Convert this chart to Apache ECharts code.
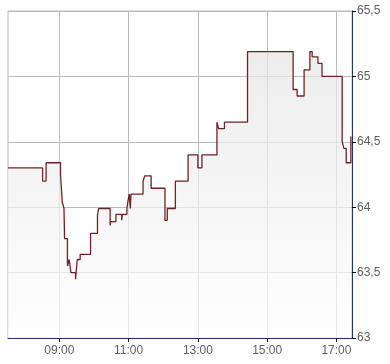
<!DOCTYPE html>
<html>
<head>
<meta charset="utf-8">
<script src="https://cdn.jsdelivr.net/npm/echarts@6/dist/echarts.min.js"></script>
<style>
html,body{margin:0;padding:0;background:#fff;}
#chart{width:390px;height:364px;}
</style>
</head>
<body>
<div id="chart"></div>
<script>
// Data: time of change and new price (step series)
var times = ['07:31','08:31','08:37','09:02','09:05','09:08','09:09','09:14','09:17','09:20','09:28','09:31','09:36','09:54','10:06','10:08','10:28','10:29','10:38','10:48','10:49','10:57','10:59','11:01','11:03','11:04','11:25','11:28','11:39','12:03','12:07','12:21','12:43','13:00','13:07','13:33','13:36','13:46','14:26','15:45','15:52','16:04','16:14','16:18','16:28','16:35','17:10','17:13','17:17','17:25'];
var prices = [64.30,64.20,64.34,64.25,64.04,63.99,63.76,63.55,63.60,63.50,63.45,63.60,63.64,63.80,63.94,63.99,63.86,63.89,63.945,63.90,63.945,63.99,64.05,64.10,63.99,64.10,64.20,64.24,64.145,63.90,63.99,64.20,64.40,64.30,64.40,64.65,64.60,64.65,65.19,64.90,64.85,65.05,65.19,65.15,65.10,65.00,64.50,64.45,64.34,64.54];
var xTickLabels = ['09:00','11:00','13:00','15:00','17:00'];
var yTickLabels = ['63','63,5','64','64,5','65','65,5'];
var axisStart = '07:31';
var axisEnd = '17:27';

function toMin(s){var p=s.split(':');return (+p[0])*60+(+p[1]);}
var seriesData = times.map(function(t,i){return [toMin(t), prices[i]];});
var xTickValues = xTickLabels.map(toMin);
var labelByMin = {};
xTickLabels.forEach(function(l){labelByMin[toMin(l)] = l;});
var yLabelByVal = {};
yTickLabels.forEach(function(l){yLabelByVal[parseFloat(l.replace(',','.')).toFixed(1)] = l;});

var chart = echarts.init(document.getElementById('chart'), null, {renderer:'canvas'});
var axisColor = '#1b3766';
var gridColor = '#bababa';
var textStyle = {color:'#5f5f5f', fontSize:12, fontFamily:'"Liberation Sans", Arial, sans-serif'};
chart.setOption({
  animation:false,
  backgroundColor:'#ffffff',
  grid:{left:8, top:11, right:38, bottom:26, show:true, borderColor:gridColor, borderWidth:1, backgroundColor:'transparent'},
  xAxis:{
    type:'value', min:toMin(axisStart), max:toMin(axisEnd),
    axisLine:{show:true, lineStyle:{color:axisColor, width:1}},
    axisTick:{show:true, length:4, inside:false, customValues:xTickValues, lineStyle:{color:'#000'}},
    axisLabel:Object.assign({margin:7, customValues:xTickValues, formatter:function(v){return labelByMin[v]||'';}}, textStyle),
    splitLine:{show:true, lineStyle:{color:gridColor, width:1}}
  },
  yAxis:{
    type:'value', position:'right', min:63, max:65.5, interval:0.5,
    axisLine:{show:true, lineStyle:{color:axisColor, width:1}},
    axisTick:{show:true, length:4, inside:false, lineStyle:{color:'#000'}},
    axisLabel:Object.assign({margin:5, formatter:function(v){return yLabelByVal[v.toFixed(1)]||'';}}, textStyle),
    splitLine:{show:true, lineStyle:{color:gridColor, width:1}}
  },
  series:[{
    type:'line', step:'end', data:seriesData, showSymbol:false, symbol:'none',
    lineStyle:{color:'#6e2226', width:1.3},
    areaStyle:{origin:'start', color:new echarts.graphic.LinearGradient(0,0,0,1,[{offset:0,color:'#e5e5e5'},{offset:1,color:'#fefefe'}])}
  }]
});
</script>
</body>
</html>
